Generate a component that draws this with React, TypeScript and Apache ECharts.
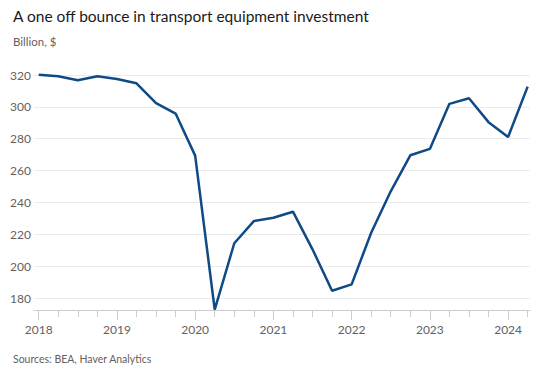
import React, { useEffect, useRef } from "react";
import * as echarts from "echarts";

const quarters = [
  "2018Q1", "2018Q2", "2018Q3", "2018Q4",
  "2019Q1", "2019Q2", "2019Q3", "2019Q4",
  "2020Q1", "2020Q2", "2020Q3", "2020Q4",
  "2021Q1", "2021Q2", "2021Q3", "2021Q4",
  "2022Q1", "2022Q2", "2022Q3", "2022Q4",
  "2023Q1", "2023Q2", "2023Q3", "2023Q4",
  "2024Q1", "2024Q2",
];
const values = [
  320.2, 319.2, 316.7, 319.2,
  317.5, 314.8, 302.3, 295.8,
  269.4, 172.7, 214.4, 228.3,
  230.4, 234.2, 210.6, 184.6,
  188.6, 221.0, 247.0, 269.6,
  273.6, 301.9, 305.4, 290.4,
  281.1, 312.7,
];
const yearTicks = [2018, 2019, 2020, 2021, 2022, 2023, 2024];

const titleText = "A one off bounce in transport equipment investment";
const subtitleText = "Billion, $";
const sourceText = "Sources: BEA, Haver Analytics";

const FONT = "Lato, 'Noto Sans', sans-serif";

function qToNum(q: string): number {
  const y = parseInt(q.slice(0, 4), 10);
  const n = parseInt(q.slice(5), 10);
  return y + (n - 1) * 0.25;
}

export default function App() {
  const ref = useRef<HTMLDivElement>(null);
  useEffect(() => {
    if (!ref.current) return;
    const chart = echarts.init(ref.current, undefined, { renderer: "svg" });
    const data = quarters.map((q, i) => [qToNum(q), values[i]]);
    const quarterTicks = quarters.map(qToNum);
    chart.setOption({
      animation: false,
      backgroundColor: "#ffffff",
      textStyle: { fontFamily: FONT },
      title: [
        {
          text: titleText,
          left: 8,
          top: 3,
          textStyle: { fontFamily: FONT, fontSize: 15.5, fontWeight: "normal", color: "#1a1a1a" },
        },
        {
          text: subtitleText,
          left: 8,
          top: 30,
          textStyle: { fontFamily: FONT, fontSize: 11.5, fontWeight: "normal", color: "#66605c" },
        },
        {
          text: sourceText,
          left: 8,
          top: 348,
          textStyle: { fontFamily: FONT, fontSize: 10.5, fontWeight: "normal", color: "#66605c" },
        },
      ],
      grid: { left: 34, right: 13, top: 75, bottom: 65, containLabel: false },
      xAxis: [
        {
          type: "value",
          min: 2017.94,
          max: 2024.28,
          axisLine: { show: true, lineStyle: { color: "#cccccc", width: 1 } },
          axisTick: {
            show: true,
            length: 7,
            customValues: quarterTicks,
            lineStyle: { color: "#cccccc" },
          },
          axisLabel: {
            customValues: yearTicks,
            formatter: (v: number) => String(Math.round(v)),
            color: "#66605c",
            fontSize: 12,
            fontFamily: FONT,
            margin: 13,
          },
          splitLine: { show: false },
        },
        {
          type: "value",
          position: "bottom",
          min: 2017.94,
          max: 2024.28,
          axisLine: { show: false },
          axisTick: {
            show: true,
            length: 10,
            customValues: yearTicks,
            lineStyle: { color: "#cccccc" },
          },
          axisLabel: { show: false },
          splitLine: { show: false },
        },
      ],
      yAxis: {
        type: "value",
        min: 172.5,
        max: 320,
        splitNumber: 7,
        axisLine: { show: false },
        axisTick: { show: false },
        axisLabel: {
          showMinLabel: false,
          color: "#66605c",
          fontSize: 12,
          fontFamily: FONT,
          margin: 3,
        },
        splitLine: { show: true, lineStyle: { color: "#ebebeb", width: 1 } },
      },
      series: [
        {
          type: "line",
          data,
          xAxisIndex: 0,
          symbol: "none",
          clip: false,
          lineStyle: { color: "#0f4a86", width: 2.5 },
        },
      ],
    });
    return () => chart.dispose();
  }, []);
  return <div ref={ref} style={{ width: 543, height: 375, margin: -8 }} />;
}
